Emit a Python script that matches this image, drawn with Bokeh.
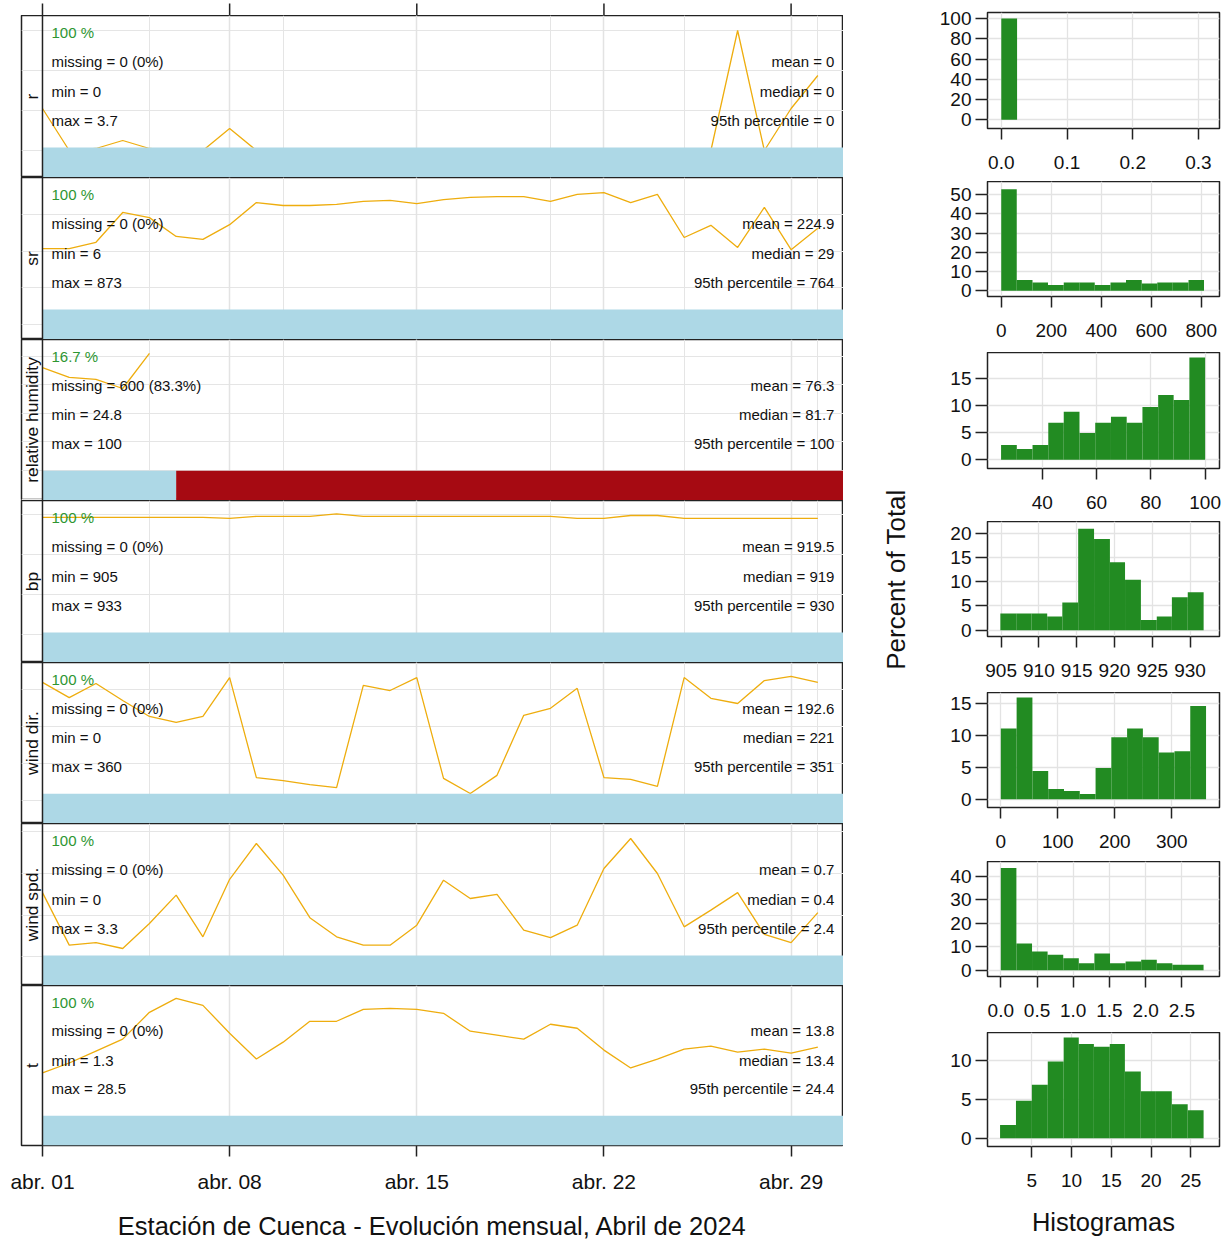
import math
from bokeh.plotting import figure
from bokeh.models import Range1d, FixedTicker, Span, Grid, NumeralTickFormatter
from bokeh.layouts import column, row
from bokeh.embed import file_html
from bokeh.resources import INLINE
from bokeh.core.properties import value

FONT = "Liberation Sans"
NAN = float("nan")

# ---------------- data ----------------
DAYS = [1, 2, 3, 4, 5, 6, 7, 8, 9, 10, 11, 12, 13, 14, 15,
        16, 17, 18, 19, 20, 21, 22, 23, 24, 25, 26, 27, 28, 29, 30]
TICK_DAYS = [1, 8, 15, 22, 29]
TICK_LABELS = ["abr. 01", "abr. 08", "abr. 15", "abr. 22", "abr. 29"]

VARS = ["r", "sr", "relative humidity", "bp", "wind dir.", "wind spd.", "t"]
PCT = ["100 %", "100 %", "16.7 %", "100 %", "100 %", "100 %", "100 %"]
MISSING = ["0 (0%)", "0 (0%)", "600 (83.3%)", "0 (0%)", "0 (0%)", "0 (0%)", "0 (0%)"]
MINS = ["0", "6", "24.8", "905", "0", "0", "1.3"]
MAXS = ["3.7", "873", "100", "933", "360", "3.3", "28.5"]
MEANS = ["0", "224.9", "76.3", "919.5", "192.6", "0.7", "13.8"]
MEDIANS = ["0", "29", "81.7", "919", "221", "0.4", "13.4"]
P95 = ["0", "764", "100", "930", "351", "2.4", "24.4"]
VALID_UNTIL = [31, 31, 6, 31, 31, 31, 31]   # day where data availability ends

r_day = [0.21, 0, 0.01, 0.05, 0.01, 0, 0, 0.11, 0, 0, 0, 0, 0, 0, 0,
         0, 0, 0, 0, 0, 0, 0, 0, 0, 0, 0, 0.60, 0, 0.21, 0.375]
sr_day = [207, 207, 224, 305, 291, 240, 232, 272, 332, 324, 324, 327, 335, 338, 329,
          340, 346, 348, 348, 335, 354, 359, 332, 354, 237, 270, 210, 319, 204, 262]
rh_day = [76.0, 72.6, 71.9, 68.7, 81.0, NAN, NAN, NAN, NAN, NAN, NAN, NAN, NAN, NAN, NAN,
          NAN, NAN, NAN, NAN, NAN, NAN, NAN, NAN, NAN, NAN, NAN, NAN, NAN, NAN, NAN]
bp_day = [918.6, 918.6, 918.6, 918.6, 918.6, 918.6, 918.6, 918.1, 919.1, 919.1, 919.1, 920.3, 919.1, 919.1, 919.1,
          919.1, 919.1, 919.1, 919.1, 919.1, 918.1, 918.1, 919.5, 919.5, 918.1, 918.1, 918.1, 918.1, 918.1, 918.1]
wd_day = [320, 279, 317, 271, 228, 212, 228, 333, 63, 55, 44, 36, 312, 298, 333,
          61, 20, 69, 231, 250, 304, 63, 58, 39, 333, 277, 263, 325, 336, 320]
ws_day = [0.77, 0.14, 0.17, 0.10, 0.40, 0.74, 0.24, 0.93, 1.36, 0.98, 0.47, 0.24, 0.14, 0.14, 0.38,
          0.92, 0.70, 0.75, 0.32, 0.23, 0.38, 1.06, 1.42, 1.00, 0.36, 0.56, 0.77, 0.27, 0.17, 0.53]
t_day = [9.44, 10.64, 12.08, 13.52, 16.76, 18.44, 17.60, 14.24, 11.12, 13.16, 15.68, 15.68, 17.12, 17.24, 17.12,
         16.64, 14.48, 14.00, 13.52, 15.32, 14.84, 12.20, 10.04, 11.12, 12.32, 12.68, 11.96, 12.32, 11.84, 12.56]
SERIES = [r_day, sr_day, rh_day, bp_day, wd_day, ws_day, t_day]

# histogram data (bin edges, percent of total)
h_r_edges = [0.0, 0.024]
h_r_pct = [100]
h_sr_edges = [0, 62, 125, 187, 250, 312, 374, 437, 499, 562, 624, 686, 749, 811]
h_sr_pct = [52.8, 5.6, 4.3, 3.0, 4.3, 4.3, 3.0, 4.3, 5.6, 3.8, 4.3, 4.3, 5.6]
h_rh_edges = [24.8, 30.6, 36.4, 42.2, 47.9, 53.7, 59.5, 65.3, 71.1, 76.9, 82.7, 88.4, 94.2, 100]
h_rh_pct = [2.7, 2.0, 2.7, 6.8, 8.8, 4.9, 6.8, 7.9, 6.8, 9.7, 11.9, 11.0, 18.8]
h_bp_edges = [904.9, 907.0, 909.0, 911.1, 913.1, 915.2, 917.3, 919.4, 921.4, 923.5, 925.6, 927.6, 929.7, 931.8]
h_bp_pct = [3.45, 3.45, 3.45, 2.8, 5.7, 20.9, 18.8, 14.0, 10.4, 2.1, 2.8, 6.8, 7.8]
h_wd_edges = [0, 27.7, 55.4, 83.1, 110.8, 138.5, 166.2, 193.8, 221.5, 249.2, 276.9, 304.6, 332.3, 360]
h_wd_pct = [11.05, 15.9, 4.4, 1.6, 1.3, 0.8, 4.9, 9.7, 11.05, 9.7, 7.3, 7.5, 14.6]
h_ws_edges = [0, 0.215, 0.431, 0.646, 0.862, 1.077, 1.292, 1.508, 1.723, 1.938, 2.154, 2.369, 2.585, 2.8]
h_ws_pct = [43.6, 11.4, 8.0, 6.6, 5.1, 3.0, 7.1, 3.0, 3.7, 4.4, 3.0, 2.3, 2.3]
h_t_edges = [1.0, 3.0, 5.0, 7.0, 9.0, 10.9, 12.8, 14.8, 16.7, 18.7, 20.6, 22.6, 24.6, 26.6]
h_t_pct = [1.7, 4.85, 6.9, 9.9, 13.0, 12.15, 11.8, 12.15, 8.6, 6.05, 6.05, 4.4, 3.6]
H_EDGES = [h_r_edges, h_sr_edges, h_rh_edges, h_bp_edges, h_wd_edges, h_ws_edges, h_t_edges]
H_PCT = [h_r_pct, h_sr_pct, h_rh_pct, h_bp_pct, h_wd_pct, h_ws_pct, h_t_pct]
H_XTICKS = [[0, 0.1, 0.2, 0.3], [0, 200, 400, 600, 800], [40, 60, 80, 100],
            [905, 910, 915, 920, 925, 930], [0, 100, 200, 300], [0, 0.5, 1.0, 1.5, 2.0, 2.5],
            [5, 10, 15, 20, 25]]
H_XFMT = ["0.0", "0", "0", "0", "0", "0.0", "0"]
H_YTICKS = [[0, 20, 40, 60, 80, 100], [0, 10, 20, 30, 40, 50], [0, 5, 10, 15],
            [0, 5, 10, 15, 20], [0, 5, 10, 15], [0, 10, 20, 30, 40], [0, 5, 10]]

# ---------------- style / layout ----------------
TREND = "#EEAD0E"
DATA_COL = "#ADD8E6"
MISS_COL = "#A60A12"
HIST_COL = "#228B22"
PCT_COL = "#2E9632"
GRID = "#E3E3E3"
FRAME = "#222222"
TXT = "#111111"

XR = (0.215, 30.96)
YR = [(-0.135, 0.675), (-40, 400), (29.5, 85.85), (846, 927), (-61, 373.7), (-0.344, 1.6), (0.68, 20.0)]
LEFT_H = [162, 162, 161, 162, 161, 162, 257]
BAR_FRAC = 30 / 162.0
ROWS = [1 - 17 / 162.0, 1 - 46 / 162.0, 1 - 75.5 / 162.0, 1 - 104.5 / 162.0]
LEFT_W = 843
STAT_SIZE = "15px"

# thin strip above the first panel holding the upper tick marks
strip = figure(width=LEFT_W, height=15, x_range=Range1d(*XR), y_range=Range1d(0, 15),
               output_backend="svg", toolbar_location=None, x_axis_location=None, y_axis_location=None,
               min_border_left=21, min_border_right=0, min_border_top=0, min_border_bottom=0)
strip.outline_line_color = None
strip.xgrid.grid_line_color = None
strip.ygrid.grid_line_color = None
strip.segment(x0=TICK_DAYS, y0=[0] * 5, x1=TICK_DAYS, y1=[12] * 5, line_color=FRAME, line_width=1.5)

left = [strip]
for i, var in enumerate(VARS):
    p = figure(width=LEFT_W, height=LEFT_H[i], x_range=Range1d(*XR), y_range=Range1d(*YR[i]),
               output_backend="svg", toolbar_location=None,
               x_axis_location=("below" if i == 6 else None), y_axis_location=None,
               min_border_left=21, min_border_right=0, min_border_top=0,
               min_border_bottom=(96 if i == 6 else 0))
    p.extra_y_ranges = {"frac": Range1d(0, 1)}
    p.outline_line_color = FRAME
    p.outline_line_width = 1.5
    if i == 6:
        p.xgrid.grid_line_color = None
        p.ygrid.grid_line_color = None
    p.add_layout(Grid(dimension=0, ticker=FixedTicker(ticks=TICK_DAYS[1:]),
                      grid_line_color=GRID, grid_line_width=1.5))

    p.line(DAYS, SERIES[i], line_color=TREND, line_width=1.3)
    p.quad(left=[1], right=[VALID_UNTIL[i]], bottom=[0], top=[BAR_FRAC], y_range_name="frac",
           fill_color=DATA_COL, line_color=None)
    if VALID_UNTIL[i] < 31:
        p.quad(left=[VALID_UNTIL[i]], right=[31], bottom=[0], top=[BAR_FRAC], y_range_name="frac",
               fill_color=MISS_COL, line_color=None)
    p.add_layout(Span(location=1, dimension="height", line_color=FRAME, line_width=1.5))

    p.text(x=[1.337] * 4, y=ROWS,
           text=[PCT[i], "missing = " + MISSING[i], "min = " + MINS[i], "max = " + MAXS[i]],
           text_color=[PCT_COL, TXT, TXT, TXT],
           y_range_name="frac", text_font=value(FONT), text_font_size=STAT_SIZE,
           text_align="left", text_baseline="middle")
    p.text(x=[30.62] * 3, y=ROWS[1:],
           text=["mean = " + MEANS[i], "median = " + MEDIANS[i], "95th percentile = " + P95[i]],
           text_color=TXT, y_range_name="frac", text_font=value(FONT), text_font_size=STAT_SIZE,
           text_align="right", text_baseline="middle")
    p.text(x=[0.62], y=[0.5], text=[var], angle=math.pi / 2, y_range_name="frac",
           text_font=value(FONT), text_font_size="17.4px", text_color=TXT,
           text_align="center", text_baseline="middle")

    if i == 6:
        xa = p.xaxis[0]
        xa.ticker = FixedTicker(ticks=TICK_DAYS)
        xa.major_label_overrides = {d: lab for d, lab in zip(TICK_DAYS, TICK_LABELS)}
        xa.axis_line_color = None
        xa.major_tick_out = 11
        xa.major_tick_in = 0
        xa.major_tick_line_color = FRAME
        xa.major_tick_line_width = 1.5
        xa.minor_tick_line_color = None
        xa.major_label_standoff = 13
        xa.major_label_text_font = FONT
        xa.major_label_text_font_size = "21px"
        xa.major_label_text_color = TXT
        xa.axis_label = "Estación de Cuenca - Evolución mensual, Abril de 2024"
        xa.axis_label_text_font = FONT
        xa.axis_label_text_font_size = "25.5px"
        xa.axis_label_text_font_style = "normal"
        xa.axis_label_text_color = TXT
        xa.axis_label_standoff = 16
    left.append(p)

# column holding the shared "Percent of Total" label
TOTAL_H = 1242
LAB_W = 70
lab = figure(width=LAB_W, height=TOTAL_H, x_range=Range1d(0, LAB_W), y_range=Range1d(TOTAL_H, 0),
             output_backend="svg", toolbar_location=None, x_axis_location=None, y_axis_location=None,
             min_border_left=0, min_border_right=0, min_border_top=0, min_border_bottom=0)
lab.outline_line_color = None
lab.xgrid.grid_line_color = None
lab.ygrid.grid_line_color = None
lab.text(x=[52], y=[579], text=["Percent of Total"], angle=math.pi / 2,
         text_font=value(FONT), text_font_size="26px", text_color=TXT,
         text_align="center", text_baseline="middle")

H_XR = [(-0.021, 0.332), (-55, 873), (19.8, 105.3), (903.2, 933.9), (-23.4, 383.6), (-0.184, 3.02), (-0.58, 28.6)]
H_YR = [(-8.6, 106), (-3, 56.8), (-1.6, 19.7), (-1.3, 22.4), (-1.3, 16.7), (-2.7, 46.4), (-1.07, 13.65)]
RIGHT_H = [181, 171, 169, 171, 169, 171, 210]
RIGHT_TOP = [12, 0, 0, 0, 0, 0, 0]
RIGHT_BOT = [53, 56, 53, 56, 54, 56, 96]

right = []
for j in range(7):
    h = figure(width=316, height=RIGHT_H[j], x_range=Range1d(*H_XR[j]), y_range=Range1d(*H_YR[j]),
               output_backend="svg", toolbar_location=None,
               min_border_left=74, min_border_right=10, min_border_top=RIGHT_TOP[j],
               min_border_bottom=RIGHT_BOT[j])
    h.outline_line_color = FRAME
    h.outline_line_width = 1.5
    edges = H_EDGES[j]
    h.quad(left=edges[:-1], right=edges[1:], bottom=0, top=H_PCT[j],
           fill_color=HIST_COL, line_color=None)
    h.xgrid.ticker = FixedTicker(ticks=H_XTICKS[j])
    h.ygrid.ticker = FixedTicker(ticks=H_YTICKS[j])
    h.xgrid.grid_line_color = GRID
    h.ygrid.grid_line_color = GRID
    h.xgrid.grid_line_width = 1.3
    h.ygrid.grid_line_width = 1.3
    for ax, ticks in ((h.xaxis[0], H_XTICKS[j]), (h.yaxis[0], H_YTICKS[j])):
        ax.ticker = FixedTicker(ticks=ticks)
        ax.axis_line_color = None
        ax.major_tick_in = 0
        ax.major_tick_line_color = FRAME
        ax.major_tick_line_width = 1.5
        ax.minor_tick_line_color = None
        ax.major_label_text_font = FONT
        ax.major_label_text_font_size = "19px"
        ax.major_label_text_color = TXT
    h.xaxis[0].major_tick_out = 11
    h.xaxis[0].major_label_standoff = 16
    h.xaxis[0].formatter = NumeralTickFormatter(format=H_XFMT[j])
    h.yaxis[0].major_tick_out = 12
    h.yaxis[0].major_label_standoff = 4
    if j == 6:
        h.xaxis[0].axis_label = "Histogramas"
        h.xaxis[0].axis_label_text_font = FONT
        h.xaxis[0].axis_label_text_font_size = "25.5px"
        h.xaxis[0].axis_label_text_font_style = "normal"
        h.xaxis[0].axis_label_text_color = TXT
        h.xaxis[0].axis_label_standoff = 18
    right.append(h)

layout = row(column(*left, spacing=0), lab, column(*right, spacing=0), spacing=0)
open("out.html", "w").write(file_html(layout, INLINE))
